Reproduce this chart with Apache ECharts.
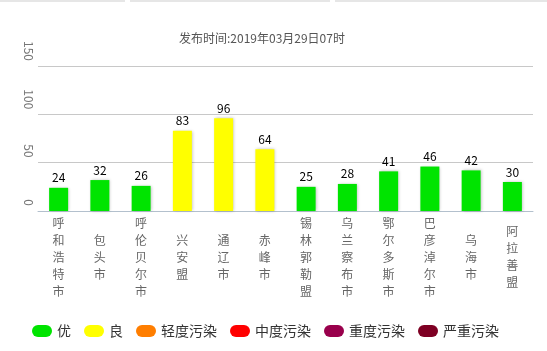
<!DOCTYPE html>
<html>
<head>
<meta charset="utf-8">
<script src="https://cdn.jsdelivr.net/npm/echarts@6/dist/echarts.min.js"></script>
<style>
  html, body { margin: 0; padding: 0; background: #fff; }
  #main { width: 547px; height: 351px; }
</style>
</head>
<body>
<div id="main"></div>
<script>
var cities = ['呼\n和\n浩\n特\n市', '包\n头\n市', '呼\n伦\n贝\n尔\n市', '兴\n安\n盟', '通\n辽\n市', '赤\n峰\n市',
  '锡\n林\n郭\n勒\n盟', '乌\n兰\n察\n布\n市', '鄂\n尔\n多\n斯\n市', '巴\n彦\n淖\n尔\n市', '乌\n海\n市', '阿\n拉\n善\n盟'];
var aqiValues = [24, 32, 26, 83, 96, 64, 25, 28, 41, 46, 42, 30];
var levelNames = ['优', '良', '轻度污染', '中度污染', '重度污染', '严重污染'];
var levelColors = ['#00e400', '#ffff00', '#ff7e00', '#ff0000', '#99004c', '#7e0023'];
var levelLimits = [50, 100, 150, 200, 300, 500];

var font = '"Noto Sans CJK SC", "Microsoft YaHei", sans-serif';

function levelOf(v) {
  for (var i = 0; i < levelLimits.length; i++) {
    if (v <= levelLimits[i]) return i;
  }
  return levelLimits.length - 1;
}

// one series per level, stacked so every city keeps a single bar slot
var series = [];
for (var k = 0; k < levelNames.length; k++) {
  var d = [];
  for (var i = 0; i < aqiValues.length; i++) {
    d.push(levelOf(aqiValues[i]) == k ? aqiValues[i] : '-');
  }
  series.push({
    name: levelNames[k],
    type: 'bar',
    stack: 'aqi',
    barWidth: 19,
    data: d,
    itemStyle: {
      color: levelColors[k],
      shadowColor: 'rgba(0,0,0,0.25)',
      shadowBlur: 3,
      shadowOffsetX: 1,
      shadowOffsetY: 0
    },
    label: {
      show: true,
      position: 'top',
      distance: 4,
      color: '#000',
      fontSize: 12,
      fontFamily: font
    }
  });
}

var myChart = echarts.init(document.getElementById('main'));
var option = {
  animation: false,
  title: {
    text: '发布时间:2019年03月29日07时',
    left: 174,
    top: 27,
    textStyle: { fontSize: 12, fontWeight: 'normal', color: '#555', fontFamily: font }
  },
  legend: {
    data: levelNames,
    bottom: 8,
    left: 27,
    icon: 'path://M6,0 L14,0 A6,6 0 0 1 14,12 L6,12 A6,6 0 0 1 6,0 Z',
    itemWidth: 20,
    itemHeight: 12,
    itemGap: 13,
    textStyle: { fontSize: 14, color: '#333', fontFamily: font }
  },
  grid: { left: 38, right: 14, top: 66, bottom: 140 },
  xAxis: {
    type: 'category',
    data: cities,
    axisLine: { lineStyle: { color: '#b3c0cd' } },
    axisTick: { length: 5, lineStyle: { color: '#b3c0cd' } },
    axisLabel: {
      interval: 0,
      color: '#666',
      fontSize: 12,
      lineHeight: 17,
      verticalAlign: 'middle',
      margin: 46,
      fontFamily: font
    }
  },
  yAxis: {
    type: 'value',
    min: 0,
    max: 150,
    interval: 50,
    axisLine: { show: false },
    axisTick: { show: false },
    splitLine: { lineStyle: { color: '#c8c8c8' } },
    axisLabel: {
      rotate: -90,
      align: 'right',
      verticalAlign: 'middle',
      padding: [0, 5, 0, 0],
      color: '#777',
      fontSize: 12,
      margin: 9,
      fontFamily: font
    }
  },
  graphic: [
    { type: 'rect', shape: { x: 0, y: 0, width: 125, height: 2 }, style: { fill: '#e6e6e6' } },
    { type: 'rect', shape: { x: 130, y: 0, width: 200, height: 2 }, style: { fill: '#e6e6e6' } },
    { type: 'rect', shape: { x: 335, y: 0, width: 212, height: 2 }, style: { fill: '#e6e6e6' } }
  ],
  series: series
};
myChart.setOption(option);
</script>
</body>
</html>
